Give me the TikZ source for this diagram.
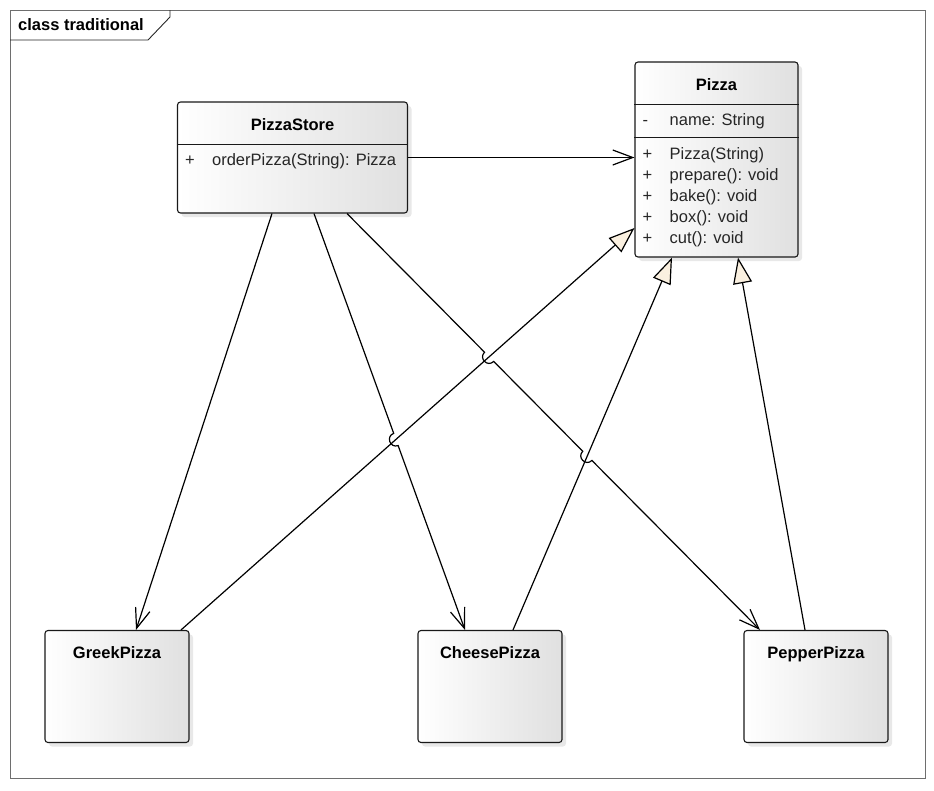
\documentclass[tikz,border=0pt]{standalone}
\usepackage{fontspec}
\setmainfont{Liberation Sans}
\usetikzlibrary{positioning,calc,arrows.meta,shadows,intersections}
\definecolor{boxgray}{HTML}{E0E0E0}
\definecolor{gencream}{HTML}{FAF0E0}
\definecolor{FrameGray}{HTML}{6E6E6E}
\definecolor{TextGray}{HTML}{262626}
\newcommand{\umlfont}{\fontsize{16.5}{19}\selectfont}
\tikzset{
  umlbox/.style={draw=black!90, line width=1.1pt, rounded corners=3pt, left color=white, right color=boxgray,
    drop shadow={shadow xshift=4pt, shadow yshift=-4pt, fill=black!18}, inner sep=0pt},
  classname/.style={font=\umlfont\bfseries, text=black, anchor=base, inner sep=0pt},
  member/.style={font=\umlfont, text=TextGray, anchor=base west, inner sep=0pt},
  sepline/.style={draw=black!90, line width=1.1pt},
  frameline/.style={draw=FrameGray, line width=0.9pt},
  assoc/.style={-{Straight Barb[length=20pt, width=15pt]}, line width=1.2pt, draw=black},
  gen/.style={-{Triangle[length=26pt, width=19pt, fill=gencream]}, line width=1.2pt, draw=black},
  hop/.style={bend right=90, looseness=1.7},
}
\newcommand{\hoprad}{6.5pt}
% #1 class node, #2 row name, #3 offset below top, #4 visibility, #5 text
\newcommand{\umlrow}[5]{%
  \node[member] (#1-vis-#2) at ([xshift=8pt, yshift=-#3pt]#1.north west) {#4};%
  \node[member] (#1-txt-#2) at ([xshift=35pt, yshift=-#3pt]#1.north west) {#5};%
}
\newcommand{\sep}[2]{%
  \draw[sepline] ([yshift=-#2pt]#1.north west) -- ([yshift=-#2pt]#1.north east);%
}

\begin{document}
\begin{tikzpicture}[x=1pt, y=-1pt]

  \useasboundingbox (0,0) rectangle (934,790);

  % --- frame -----------------------------------------------------------------
  \draw[frameline] (10,10) rectangle (925,778);
  \draw[draw=black!85, line width=0.9pt] (10,40) -- (148,40) -- (170,17) -- (170,10);
  \node[font=\umlfont\bfseries, anchor=base west, inner sep=0pt] (frame-label) at (18,30) {class traditional};

  % --- classes ---------------------------------------------------------------
  \node[umlbox, minimum width=163pt, minimum height=195pt] (pizza) at (716.5,159.5) {};
  \node[umlbox, minimum width=230pt, minimum height=111pt] (store) at (292.5,157.5) {};
  \node[umlbox, minimum width=144pt, minimum height=112pt] (greek) at (117,686.5) {};
  \node[umlbox, minimum width=144pt, minimum height=112pt] (cheese) at (490,686.5) {};
  \node[umlbox, minimum width=144pt, minimum height=112pt] (pepper) at (816,686.5) {};

  \node[classname] (pizza-name) at ([yshift=-29pt]pizza.north) {Pizza};
  \node[classname] (store-name) at ([yshift=-29pt]store.north) {PizzaStore};
  \node[classname] (greek-name) at ([yshift=-29pt]greek.north) {GreekPizza};
  \node[classname] (cheese-name) at ([yshift=-29pt]cheese.north) {CheesePizza};
  \node[classname] (pepper-name) at ([yshift=-29pt]pepper.north) {PepperPizza};

  \sep{pizza}{43}
  \sep{pizza}{76}
  \umlrow{pizza}{a1}{64}{-}{name: String}
  \foreach \op [count=\k] in {Pizza(String), prepare(): void, bake(): void, box(): void, cut(): void} {
    \pgfmathsetmacro{\oy}{77+21*\k}
    \umlrow{pizza}{o\k}{\oy}{+}{\op}
  }

  \sep{store}{43}
  \umlrow{store}{o1}{64}{+}{orderPizza(String): Pizza}

  % --- end points ------------------------------------------------------------
  \coordinate (store-s1) at ([xshift=-20.5pt]store.south);
  \coordinate (store-s2) at ([xshift=21.5pt]store.south);
  \coordinate (store-s3) at ([xshift=54.5pt]store.south);
  \coordinate (greek-in) at ([xshift=19pt]greek.north);
  \coordinate (cheese-in) at ([xshift=-25pt]cheese.north);
  \coordinate (pepper-in) at ([xshift=-56pt]pepper.north);
  \coordinate (greek-out) at ([xshift=64pt]greek.north);
  \coordinate (cheese-out) at ([xshift=23pt]cheese.north);
  \coordinate (pepper-out) at ([xshift=-11pt]pepper.north);

  % --- generalizations -------------------------------------------------------
  \draw[gen, name path=greekgen] (greek-out) -- ([yshift=-68.5pt]pizza.west);
  \draw[gen, name path=cheesegen] (cheese-out) -- ([xshift=-44.5pt]pizza.south);
  \draw[gen, name path=peppergen] (pepper-out) -- ([xshift=21.5pt]pizza.south);

  % --- associations (with hops over crossings) -------------------------------
  \draw[assoc] (store.east) -- (store.east -| pizza.west);
  \draw[assoc] (store-s1) -- (greek-in);

  \path[name path=cheeseassoc] (store-s2) -- (cheese-in);
  \path[name intersections={of=cheeseassoc and greekgen, by=hopA}];
  \draw[assoc] (store-s2) -- ($(hopA)!\hoprad!(store-s2)$) to[hop] ($(hopA)!\hoprad!(cheese-in)$) -- (cheese-in);

  \path[name path=pepperassoc] (store-s3) -- (pepper-in);
  \path[name intersections={of=pepperassoc and greekgen, by=hopB}];
  \path[name intersections={of=pepperassoc and cheesegen, by=hopC}];
  \draw[assoc] (store-s3) -- ($(hopB)!\hoprad!(store-s3)$) to[hop] ($(hopB)!\hoprad!(pepper-in)$)
    -- ($(hopC)!\hoprad!(store-s3)$) to[hop] ($(hopC)!\hoprad!(pepper-in)$) -- (pepper-in);

\end{tikzpicture}
\end{document}
